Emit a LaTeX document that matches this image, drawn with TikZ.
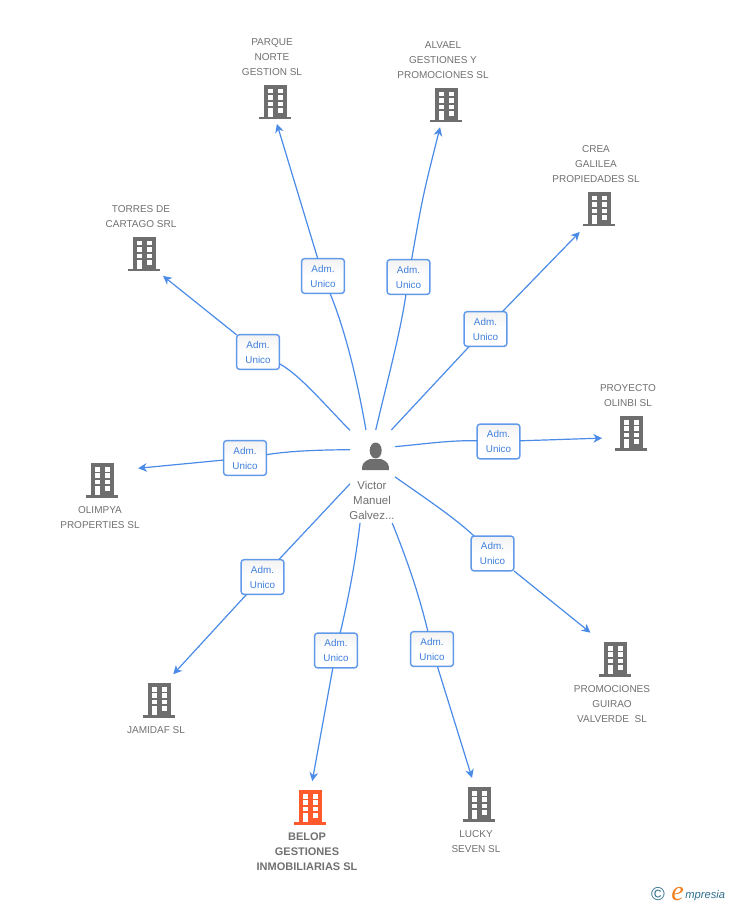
\documentclass[tikz,border=0pt]{standalone}
\usepackage{fontspec}
\setmainfont{Liberation Sans}
\newfontfamily\logoserif{Liberation Serif}
\usetikzlibrary{arrows.meta}
\definecolor{linkblue}{HTML}{4A8BE8}
\definecolor{boxblue}{HTML}{629AEA}
\definecolor{admtext}{HTML}{3F7FDC}
\definecolor{icongray}{HTML}{6E6E6E}
\definecolor{labelgray}{HTML}{707070}
\definecolor{hiorange}{HTML}{FF5A2B}
\definecolor{logoteal}{HTML}{2F6F8F}
\definecolor{logoorange}{HTML}{F08020}
\tikzset{
  x=0.75pt,y=-0.75pt,
  adm/.style={draw=boxblue,line width=1.1pt,rounded corners=2.4pt,top color=black!5,bottom color=white,middle color=white,
    minimum width=32.2pt,minimum height=26.2pt,inner sep=0pt,outer sep=0pt,align=center,
    text=admtext,font=\fontsize{7.4pt}{11.25pt}\selectfont,
    execute at begin node={\rule{0pt}{7pt}}},
  zone/.style={circle,minimum size=#1*1.5pt,inner sep=0pt,outer sep=0pt},
  lab/.style={inner sep=0pt,align=center,yshift=-0.75pt,text=labelgray,font=\fontsize{7.5pt}{11.25pt}\selectfont},
  hilab/.style={inner sep=0pt,align=center,yshift=-0.75pt,text=labelgray,font=\fontsize{8.25pt}{11.25pt}\selectfont\bfseries},
  personlab/.style={inner sep=0pt,align=center,yshift=-0.75pt,text=labelgray,font=\fontsize{8.6pt}{11.25pt}\selectfont},
  link/.style={draw=linkblue,line width=0.9pt},
  arrowlink/.style={link,-{Stealth[length=6.5pt,width=6.5pt,inset=2pt]}},
  pics/bldg/.style={code={
    \fill[#1] (-11,-17) rectangle (12,15);
    \fill[#1] (-16,15) rectangle (16,17.5);
    \foreach \yy/\hh in {-13/-8.5,-6.7/-2,0/4}{
      \fill[white] (-7.5,\yy) rectangle (-2.5,\hh);
      \fill[white] (2.5,\yy) rectangle (7.5,\hh);
    }
    \fill[white] (-7.5,6.3) rectangle (-2.5,15);
    \fill[white] (2.5,6.3) rectangle (7.5,11);
  }},
}
\begin{document}
\begin{tikzpicture}
\useasboundingbox (0,0) rectangle (728,905);

% hub and building zones
\node[minimum width=33.75pt,minimum height=69.75pt,inner sep=0pt,outer sep=0pt] (hub) at (372.5,476.5) {};
\node[zone=22] (parque) at (275,102) {};
\node[zone=23] (alvael) at (446,105) {};
\node[zone=30] (crea) at (599,209) {};
\node[zone=29] (torres) at (144,254) {};
\node[zone=29.4] (proyecto) at (631,433) {};
\node[zone=38] (olimpya) at (102,480) {};
\node[zone=29.5] (jamidaf) at (159,700) {};
\node[zone=26] (belop) at (310,807) {};
\node[zone=27] (lucky) at (479,804) {};
\node[zone=36] (promo) at (615,659) {};

% boxes
\node[adm] (a1) at (323,276) {Adm.\\Unico};
\node[adm] (a2) at (408.5,277) {Adm.\\Unico};
\node[adm] (a3) at (485.5,329) {Adm.\\Unico};
\node[adm] (a4) at (258,352) {Adm.\\Unico};
\node[adm] (a5) at (498.5,441.5) {Adm.\\Unico};
\node[adm] (a6) at (245,458) {Adm.\\Unico};
\node[adm] (a7) at (262.5,577) {Adm.\\Unico};
\node[adm] (a8) at (336,650.5) {Adm.\\Unico};
\node[adm] (a9) at (432,649) {Adm.\\Unico};
\node[adm] (a10) at (492.5,553.5) {Adm.\\Unico};

% connectors
\draw[link] (hub.98) .. controls (358,385) and (347,335) .. (a1);
\draw[arrowlink] (a1) -- (parque.275);
\draw[link] (hub.86) .. controls (385,390) and (400,335) .. (a2);
\draw[arrowlink] (a2) .. controls (423,195) .. (alvael.255);
\draw[link] (hub.68) -- (a3);
\draw[arrowlink] (a3) -- (crea.230.4);
\draw[link] (hub.116.5) .. controls (325,405) and (300,375) .. (a4);
\draw[arrowlink] (a4) -- (torres.-49);
\draw[link] (hub.53.6) .. controls (425,444) and (450,440) .. (a5);
\draw[arrowlink] (a5) .. controls (545,440) .. (proyecto.190);
\draw[link] (hub.130) .. controls (315,450) and (290,451) .. (a6);
\draw[arrowlink] (a6) -- (olimpya.18.4);
\draw[link] (hub.198.4) -- (a7);
\draw[arrowlink] (a7) -- (jamidaf.61.7);
\draw[link] (hub.255) .. controls (355,565) and (348,600) .. (a8);
\draw[arrowlink] (a8) -- (belop.85.6);
\draw[link] (hub.293) .. controls (405,555) and (418,590) .. (a9);
\draw[arrowlink] (a9) -- (lucky.105);
\draw[link] (hub.-1) .. controls (425,498) and (455,518) .. (a10);
\draw[arrowlink] (a10) .. controls (540,592) .. (promo.133.9);

% person icon
\fill[icongray] (375.7,450.5) ellipse (6 and 8);
\fill[icongray] (362,470) .. controls (362,464) and (363,462) .. (370,459) -- (381,459) .. controls (388,462) and (389,464) .. (389,470) -- cycle;
\node[personlab] (hubname) at (372,499) {Victor\\Manuel\\Galvez...};

% building icons
\pic at (parque) {bldg=icongray};
\pic at (alvael) {bldg=icongray};
\pic at (crea) {bldg=icongray};
\pic at (torres) {bldg=icongray};
\pic at (proyecto) {bldg=icongray};
\pic at (olimpya) {bldg=icongray};
\pic at (jamidaf) {bldg=icongray};
\pic at (belop) {bldg=hiorange};
\pic at (lucky) {bldg=icongray};
\pic at (promo) {bldg=icongray};

% labels
\node[lab] (lparque) at (272,56) {PARQUE\\NORTE\\GESTION SL};
\node[lab] (lalvael) at (443,59) {ALVAEL\\GESTIONES Y\\PROMOCIONES SL};
\node[lab] (lcrea) at (596,163) {CREA\\GALILEA\\PROPIEDADES SL};
\node[lab] (ltorres) at (141,215.5) {TORRES DE\\CARTAGO SRL};
\node[lab] (lproyecto) at (628,394.5) {PROYECTO\\OLINBI SL};
\node[lab] (lolimpya) at (100,516.5) {OLIMPYA\\PROPERTIES SL};
\node[lab] (ljamidaf) at (156,729) {JAMIDAF SL};
\node[hilab] (lbelop) at (307,851) {BELOP\\GESTIONES\\INMOBILIARIAS SL};
\node[lab] (llucky) at (476,840.5) {LUCKY\\SEVEN SL};
\node[lab] (lpromo) at (612,703) {PROMOCIONES\\GUIRAO\\VALVERDE\ \ SL};

% logo
\node[inner sep=0pt,text=logoteal,font=\fontsize{14pt}{14pt}\selectfont] (copy) at (658,894) {©};
\node[inner sep=0pt,anchor=base west,text=logoorange,font=\fontsize{21pt}{21pt}\logoserif\itshape] (logoe) at (671,900) {e};
\node[inner sep=0pt,anchor=base west,text=logoteal,font=\fontsize{8.4pt}{12pt}\itshape] (logot) at (685,898) {mpresia};
\end{tikzpicture}
\end{document}
